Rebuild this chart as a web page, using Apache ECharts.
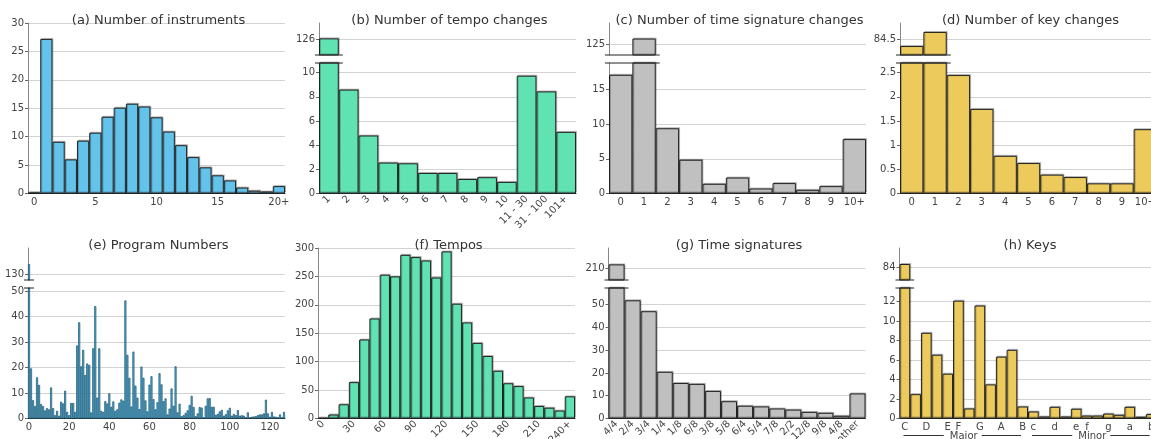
<!DOCTYPE html>
<html lang="en">
<head>
<meta charset="UTF-8">
<title>Dataset statistics</title>
<script src="https://cdn.jsdelivr.net/npm/echarts@6.0.0/dist/echarts.min.js"></script>
<style>
  html, body { margin: 0; padding: 0; background: #fff; }
  #main { width: 1151px; height: 439px; }
</style>
</head>
<body>
<div id="main"></div>
<script>
// (a) number of instruments
const instCats = ['0','1','2','3','4','5','6','7','8','9','10','11','12','13','14','15','16','17','18','19','20+'];
const instVals = [0.2, 27.2, 9.1, 6.0, 9.3, 10.7, 13.5, 15.1, 15.8, 15.3, 13.4, 10.9, 8.5, 6.4, 4.6, 3.2, 2.3, 1.05, 0.5, 0.35, 1.3];

// (b) number of tempo changes
const tempoChgCats = ['1','2','3','4','5','6','7','8','9','10','11 - 30','31 - 100','101+'];
const tempoChgVals = [126.04, 8.6, 4.8, 2.56, 2.5, 1.7, 1.7, 1.2, 1.35, 0.96, 9.75, 8.45, 5.1];

// (c) number of time signature changes
const tsChgCats = ['0','1','2','3','4','5','6','7','8','9','10+'];
const tsChgVals = [17.1, 127.7, 9.4, 4.86, 1.4, 2.3, 0.72, 1.5, 0.53, 1.06, 7.84];

// (d) number of key changes
const keyChgCats = ['0','1','2','3','4','5','6','7','8','9','10+'];
const keyChgVals = [84.06, 84.94, 2.45, 1.75, 0.78, 0.63, 0.39, 0.34, 0.21, 0.21, 1.33];

// (e) program numbers 0..127
const programCats = Array.from({length: 128}, (_, i) => String(i));
const programVals = [
  132, 19.7, 7.2, 4.9, 16.2, 13.2, 5.7, 4.9, 3.2, 4.1,
  3.6, 12.2, 4.1, 1.3, 3.0, 1.1, 6.6, 5.9, 10.9, 2.6,
  1.3, 6.1, 6.1, 2.6, 28.7, 37.8, 20.5, 27.0, 17.1, 21.6,
  21.1, 2.4, 27.6, 44.2, 8.2, 27.6, 3.0, 2.6, 6.8, 5.9,
  9.9, 4.6, 6.7, 3.0, 3.6, 6.2, 7.5, 7.0, 46.4, 25.0,
  16.0, 4.7, 26.3, 12.9, 8.2, 3.7, 20.4, 16.0, 7.1, 2.8,
  13.3, 16.6, 7.6, 3.6, 6.4, 17.8, 13.4, 6.8, 7.9, 1.6,
  3.9, 11.8, 5.0, 20.5, 2.4, 5.8, 0.9, 1.3, 2.2, 3.2,
  5.3, 8.9, 4.5, 0.9, 2.0, 4.5, 4.3, 0.5, 5.0, 7.9,
  8.0, 4.6, 4.6, 1.4, 1.8, 2.8, 3.4, 1.1, 1.7, 3.2,
  4.2, 1.1, 1.8, 1.3, 3.3, 1.1, 1.3, 1.1, 0.5, 2.4,
  0.5, 0.7, 0.8, 0.9, 1.3, 1.6, 1.6, 2.0, 7.4, 2.0,
  0.7, 2.6, 0.8, 0.7, 0.5, 1.6, 0.5, 2.6
];

// (f) tempos
const tempoCats = ['0','10','20','30','40','50','60','70','80','90','100','110','120','130','140','150','160','170','180','190','200','210','220','230','240+'];
const tempoVals = [1, 7, 25, 64, 139, 176, 253, 250, 288, 284, 278, 248, 294, 202, 169, 133, 110, 84, 62, 57, 37, 22, 19, 14, 39];

// (g) time signatures
const timeSigCats = ['4/4','2/4','3/4','1/4','1/8','6/8','3/8','5/8','6/4','5/4','7/8','2/2','12/8','9/8','4/8','other'];
const timeSigVals = [210.9, 51.9, 47.1, 20.5, 15.6, 15.2, 12.1, 7.6, 5.6, 5.3, 4.4, 3.9, 2.9, 2.5, 1.2, 11.0];

// (h) keys, major then minor
const keyCats = ['C','C#','D','Eb','E','F','F#','G','Ab','A','Bb','B','c','c#','d','eb','e','f','f#','g','g#','a','bb','b'];
const keyVals = [84.5, 2.5, 8.8, 6.55, 4.6, 12.1, 1.03, 11.6, 3.5, 6.35, 7.05, 1.23, 0.72, 0.2, 1.2, 0.2, 1.0, 0.3, 0.3, 0.5, 0.38, 1.2, 0.17, 0.45];

const FONT = 'DejaVu Sans';
const W = 257;
const ROWS = [
  {title: 9, top: 23, gap: 55, main: 63, bottom: 193.5},
  {title: 234, top: 248, gap: 280, main: 288, bottom: 418.5}
];

const grids = [], xAxes = [], yAxes = [], series = [], titles = [], graphics = [];

const labelStyle = {fontFamily: FONT, fontSize: 10, color: '#444'};

function tickList(max, step) {
  const t = [];
  for (let v = 0; v <= max + 1e-9; v += step) t.push(Math.round(v * 1000) / 1000);
  return t;
}

function addGrid(left, top, height) {
  grids.push({left: left, top: top, width: W, height: height, containLabel: false, outerBoundsMode: 'none'});
  return grids.length - 1;
}

function barStyle(p) {
  const s = {
    color: p.color,
    borderColor: p.edge || '#222',
    borderWidth: p.edgeWidth || 1
  };
  if (!p.noShadow) {
    s.shadowColor = 'rgba(0,0,0,0.22)';
    s.shadowOffsetX = 1;
    s.shadowOffsetY = -1;
  }
  return s;
}

function panel(p) {
  const r = ROWS[p.row];
  titles.push({
    text: p.title, left: p.left + W / 2 - 3, top: r.title, textAlign: 'center',
    textStyle: {fontFamily: FONT, fontSize: 13, fontWeight: 'normal', color: '#333'}
  });

  // main part of the axis
  const mainTop = p.brk ? r.main : r.top;
  const gi = addGrid(p.left, mainTop, r.bottom - mainTop);
  const ticks = tickList(p.max, p.interval);
  xAxes.push({
    type: 'category', gridIndex: gi, data: p.cats, boundaryGap: true,
    axisLine: {show: true, lineStyle: {color: '#222', width: 1}},
    axisTick: {show: false},
    axisLabel: Object.assign({interval: p.labelInterval || 0, rotate: p.rotate || 0, margin: 4,
      formatter: p.formatter}, labelStyle),
    splitLine: {show: false}
  });
  yAxes.push({
    type: 'value', gridIndex: gi, min: 0, max: p.max, interval: p.interval,
    axisLine: {show: true, lineStyle: {color: '#888'}},
    axisTick: {show: true, length: 3, lineStyle: {color: '#666'}, customValues: ticks},
    axisLabel: Object.assign({margin: 4, customValues: ticks}, labelStyle),
    splitLine: {show: true, lineStyle: {color: '#d3d3d3', width: 1}}
  });
  series.push({
    type: 'bar', xAxisIndex: xAxes.length - 1, yAxisIndex: yAxes.length - 1,
    data: p.vals, barCategoryGap: '0%', clip: true, silent: true,
    itemStyle: barStyle(p)
  });

  if (!p.brk) return;
  const b = p.brk;

  // upper part above the break
  const tg = addGrid(p.left, r.top, r.gap - r.top);
  xAxes.push({type: 'category', gridIndex: tg, data: p.cats, boundaryGap: true, show: false});
  yAxes.push({
    type: 'value', gridIndex: tg, min: b.min, max: b.max,
    axisLine: {show: true, lineStyle: {color: '#888'}},
    axisTick: {show: true, length: 3, lineStyle: {color: '#666'}, customValues: [b.tick]},
    axisLabel: Object.assign({margin: 4, customValues: [b.tick]}, labelStyle),
    splitLine: {show: true, lineStyle: {color: '#d3d3d3', width: 1}}
  });
  series.push({
    type: 'bar', xAxisIndex: xAxes.length - 1, yAxisIndex: yAxes.length - 1,
    data: p.vals.map(v => (v > b.min ? v : '-')), barCategoryGap: '0%', clip: true, silent: true,
    itemStyle: barStyle(p)
  });

  // short break marks
  const bw = W / p.cats.length;
  const x1 = p.left - 4, x2 = p.left + b.bars * bw + 4;
  [r.gap, r.main].forEach(y => {
    graphics.push({type: 'line', silent: true, z: 50,
      shape: {x1: x1, y1: y, x2: x2, y2: y}, style: {stroke: '#222', lineWidth: 1}});
  });
}

panel({title: '(a) Number of instruments', row: 0, left: 28, cats: instCats, vals: instVals,
  max: 30, interval: 5, labelInterval: 4, color: '#63c3ea'});
panel({title: '(b) Number of tempo changes', row: 0, left: 319, cats: tempoChgCats, vals: tempoChgVals,
  max: 10.8, interval: 2, rotate: 45, color: '#60e2b2',
  brk: {min: 125, max: 127, tick: 126, bars: 1}});
panel({title: '(c) Number of time signature changes', row: 0, left: 609, cats: tsChgCats, vals: tsChgVals,
  max: 18.8, interval: 5, color: '#c0c0c0',
  brk: {min: 120, max: 135, tick: 125, bars: 2}});
panel({title: '(d) Number of key changes', row: 0, left: 900, cats: keyChgCats, vals: keyChgVals,
  max: 2.7, interval: 0.5, color: '#ecca5c',
  brk: {min: 83.5, max: 85.5, tick: 84.5, bars: 2}});

panel({title: '(e) Program Numbers', row: 1, left: 28, cats: programCats, vals: programVals,
  max: 51.3, interval: 10, labelInterval: 19, color: '#4cbcef', edge: '#1a4d66', edgeWidth: 0.7, noShadow: true,
  brk: {min: 129, max: 135, tick: 130, bars: 1}});
panel({title: '(f) Tempos', row: 1, left: 318, cats: tempoCats, vals: tempoVals,
  max: 300, interval: 50, labelInterval: 2, rotate: 45, color: '#60e2b2'});
panel({title: '(g) Time signatures', row: 1, left: 608.5, cats: timeSigCats, vals: timeSigVals,
  max: 57.3, interval: 10, rotate: 45, color: '#c0c0c0',
  brk: {min: 207, max: 215, tick: 210, bars: 1}});
panel({title: '(h) Keys', row: 1, left: 899.5, cats: keyCats, vals: keyVals,
  max: 13.4, interval: 2, color: '#ecca5c', formatter: v => (v.length === 1 ? v : ''),
  brk: {min: 82, max: 87, tick: 84, bars: 1}});

// Major / Minor group labels under (h)
(function () {
  const left = 899.5, bw = W / keyCats.length, y = 435.5;
  [['Major', 0], ['Minor', 12]].forEach(([name, start]) => {
    const s = left + start * bw, e = s + 12 * bw, c = (s + e) / 2;
    graphics.push({type: 'line', silent: true, shape: {x1: s + 4, y1: y, x2: c - 20, y2: y}, style: {stroke: '#333', lineWidth: 1}});
    graphics.push({type: 'line', silent: true, shape: {x1: c + 18, y1: y, x2: e - 7, y2: y}, style: {stroke: '#333', lineWidth: 1}});
    graphics.push({type: 'text', silent: true, x: c, y: y + 1,
      style: {text: name, fill: '#444', font: '10px "DejaVu Sans"', textAlign: 'center', textVerticalAlign: 'middle'}});
  });
})();

const chart = echarts.init(document.getElementById('main'), null, {renderer: 'canvas'});
chart.setOption({
  animation: false,
  backgroundColor: '#fff',
  title: titles,
  grid: grids,
  xAxis: xAxes,
  yAxis: yAxes,
  series: series,
  graphic: graphics
});
</script>
</body>
</html>
